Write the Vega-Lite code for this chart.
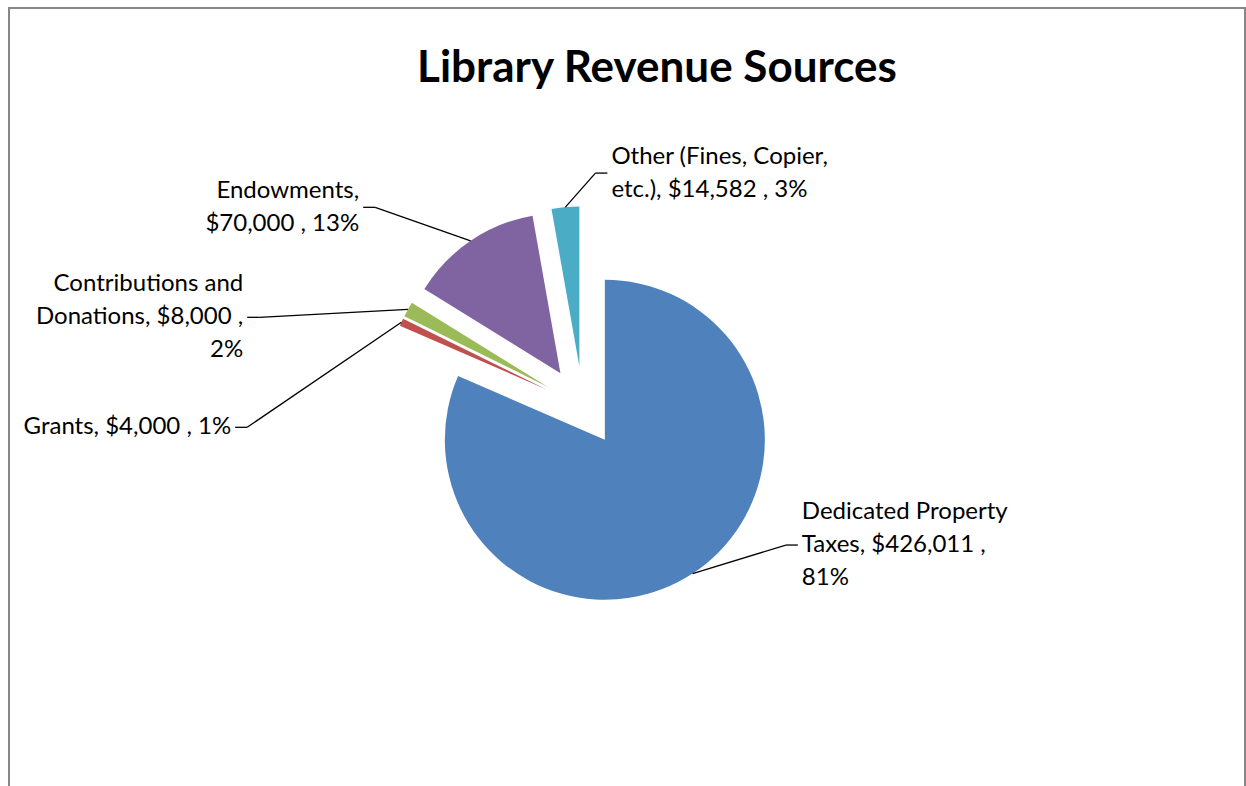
{
  "$schema": "https://vega.github.io/schema/vega-lite/v6.json",
  "width": 1236,
  "height": 781,
  "autosize": {"type": "none"},
  "padding": {"left": 9, "top": 8, "right": 1, "bottom": -3},
  "background": "white",
  "config": {"view": {"stroke": "#878787", "strokeWidth": 2}, "font": "Lato"},
  "title": {"text": "Library Revenue Sources", "font": "Lato", "fontSize": 44, "fontWeight": "bold", "color": "#000000", "anchor": "middle", "frame": "group", "dx": 30, "offset": -83},
  "data": {"values": [
    {"source": "Dedicated Property Taxes", "amount": 426011, "order": 1, "label": "Dedicated Property\nTaxes,  $426,011 ,\n81%"},
    {"source": "Grants", "amount": 4000, "order": 2, "label": "Grants,  $4,000 , 1%"},
    {"source": "Contributions and Donations", "amount": 8000, "order": 3, "label": "Contributions and\nDonations,  $8,000 ,\n2%"},
    {"source": "Endowments", "amount": 70000, "order": 4, "label": "Endowments,\n$70,000 , 13%"},
    {"source": "Other (Fines, Copier, etc.)", "amount": 14582, "order": 5, "label": "Other (Fines, Copier,\netc.),  $14,582 , 3%"}
  ]},
  "transform": [
    {"joinaggregate": [{"op": "sum", "field": "amount", "as": "total"}]},
    {"window": [{"op": "sum", "field": "amount", "as": "cum"}], "sort": [{"field": "order", "order": "ascending"}], "frame": [null, 0]},
    {"calculate": "(datum.cum - datum.amount) / datum.total", "as": "t0"},
    {"calculate": "datum.cum / datum.total", "as": "t1"},
    {"calculate": "PI * (datum.t0 + datum.t1)", "as": "mid"},
    {"calculate": "sin(datum.mid)", "as": "ux"},
    {"calculate": "cos(datum.mid)", "as": "uy"},
    {"calculate": "40 * datum.ux", "as": "cx"},
    {"calculate": "40 * datum.uy", "as": "cy"},
    {"calculate": "200 * datum.ux", "as": "sx"},
    {"calculate": "200 * datum.uy", "as": "sy"},
    {"calculate": "datum.ux < -0.2 ? 'left' : 'right'", "as": "side"},
    {"calculate": "datum.side == 'left' ? min(370 * datum.ux, datum.sx - 30) : max(370 * datum.ux, datum.sx + 30)", "as": "bx"},
    {"calculate": "203 * datum.uy + 31", "as": "by"},
    {"window": [{"op": "lag", "field": "by", "as": "pby"}], "groupby": ["side"], "sort": [{"field": "mid", "order": "descending"}]},
    {"calculate": "datum.pby == null ? datum.by : min(datum.by, datum.pby - 110)", "as": "by1"},
    {"window": [{"op": "lag", "field": "by1", "as": "pby1"}], "groupby": ["side"], "sort": [{"field": "mid", "order": "descending"}]},
    {"calculate": "datum.pby1 == null ? datum.by1 : min(datum.by1, datum.pby1 - 110)", "as": "ly"},
    {"calculate": "datum.side == 'left' ? datum.bx - 12 : datum.bx + 12", "as": "tx"},
    {"calculate": "datum.side == 'left' ? datum.bx - 16 : datum.bx + 16", "as": "lx"},
    {"calculate": "datum.ly + (length(split(datum.label, '\\n')) - 1) * 16.5", "as": "ty"}
  ],
  "layer": [
    {
      "mark": {"type": "arc", "radius": 160},
      "encoding": {
        "theta": {"field": "t0", "type": "quantitative", "stack": null, "scale": {"domain": [0, 1]}},
        "theta2": {"field": "t1"},
        "x": {"field": "cx", "type": "quantitative", "scale": {"domain": [-573.9, 662.1], "nice": false, "zero": false}, "axis": null},
        "y": {"field": "cy", "type": "quantitative", "scale": {"domain": [-382.7, 398.3], "nice": false, "zero": false}, "axis": null},
        "color": {"field": "source", "type": "nominal", "legend": null,
          "scale": {"domain": ["Dedicated Property Taxes", "Grants", "Contributions and Donations", "Endowments", "Other (Fines, Copier, etc.)"],
                    "range": ["#4F81BD", "#C0504D", "#9BBB59", "#8064A2", "#4BACC6"]}}
      }
    },
    {
      "mark": {"type": "rule", "color": "#000000", "strokeWidth": 1.3},
      "encoding": {
        "x": {"field": "sx", "type": "quantitative", "scale": {"domain": [-573.9, 662.1], "nice": false, "zero": false}, "axis": null},
        "y": {"field": "sy", "type": "quantitative", "scale": {"domain": [-382.7, 398.3], "nice": false, "zero": false}, "axis": null},
        "x2": {"field": "bx"},
        "y2": {"field": "ly"}
      }
    },
    {
      "mark": {"type": "rule", "color": "#000000", "strokeWidth": 1.3},
      "encoding": {
        "x": {"field": "bx", "type": "quantitative", "scale": {"domain": [-573.9, 662.1], "nice": false, "zero": false}, "axis": null},
        "y": {"field": "ly", "type": "quantitative", "scale": {"domain": [-382.7, 398.3], "nice": false, "zero": false}, "axis": null},
        "x2": {"field": "tx"},
        "y2": {"field": "ly"}
      }
    },
    {
      "transform": [{"filter": "datum.side == 'left'"}],
      "mark": {"type": "text", "align": "right", "baseline": "middle", "font": "Lato", "fontSize": 24, "lineHeight": 33, "lineBreak": "\n", "color": "#000000"},
      "encoding": {
        "x": {"field": "lx", "type": "quantitative", "scale": {"domain": [-573.9, 662.1], "nice": false, "zero": false}, "axis": null},
        "y": {"field": "ty", "type": "quantitative", "scale": {"domain": [-382.7, 398.3], "nice": false, "zero": false}, "axis": null},
        "text": {"field": "label", "type": "nominal"}
      }
    },
    {
      "transform": [{"filter": "datum.side == 'right'"}],
      "mark": {"type": "text", "align": "left", "baseline": "middle", "font": "Lato", "fontSize": 24, "lineHeight": 33, "lineBreak": "\n", "color": "#000000"},
      "encoding": {
        "x": {"field": "lx", "type": "quantitative", "scale": {"domain": [-573.9, 662.1], "nice": false, "zero": false}, "axis": null},
        "y": {"field": "ty", "type": "quantitative", "scale": {"domain": [-382.7, 398.3], "nice": false, "zero": false}, "axis": null},
        "text": {"field": "label", "type": "nominal"}
      }
    }
  ]
}
